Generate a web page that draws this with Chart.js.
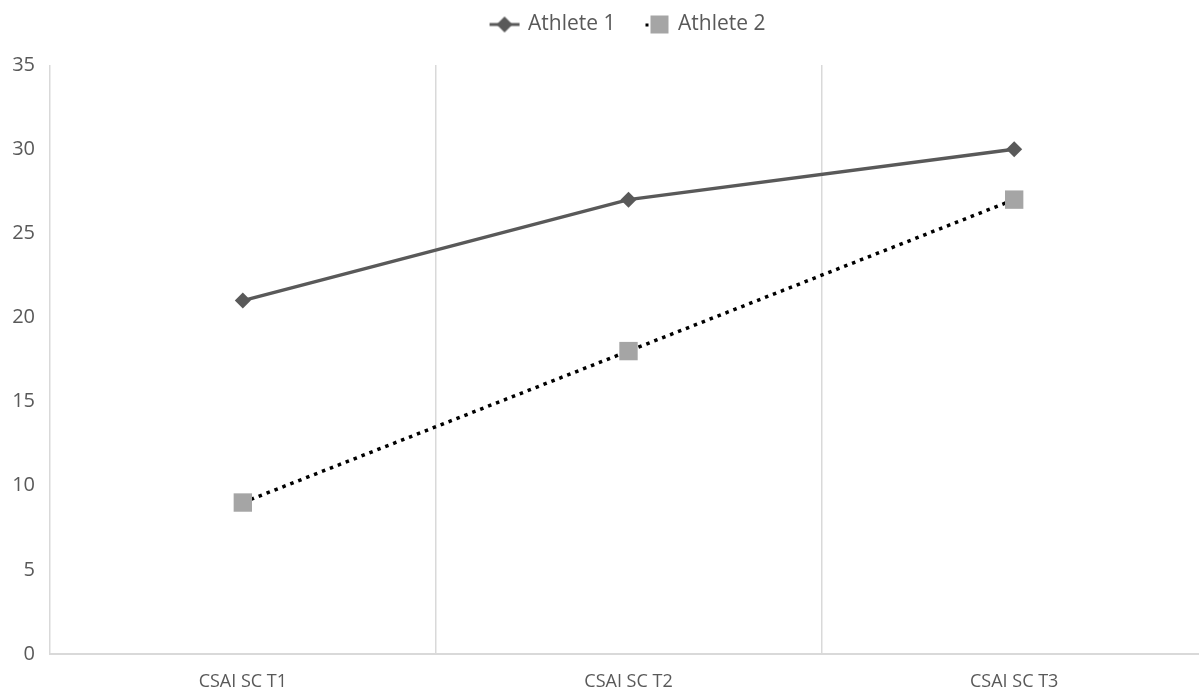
<!DOCTYPE html>
<html>
<head>
<meta charset="utf-8">
<script src="https://cdn.jsdelivr.net/npm/chart.js@4/dist/chart.umd.min.js"></script>
<style>
  html, body { margin: 0; padding: 0; background: #fff; overflow: hidden; }
  #wrap { width: 1199px; height: 696px; overflow: hidden; }
</style>
</head>
<body>
<div id="wrap"><canvas id="c" width="1247" height="696"></canvas></div>
<script>
const categories = ['CSAI SC T1', 'CSAI SC T2', 'CSAI SC T3'];
const athlete1 = [21, 27, 30];
const athlete2 = [9, 18, 27];
const seriesNames = ['Athlete 1', 'Athlete 2'];
const yTicks = [0, 5, 10, 15, 20, 25, 30, 35];

const TEXT = '#595959';
const GRID = '#d9d9d9';
const FONT = "'Open Sans', 'Noto Sans', sans-serif";

// Small legend glyphs: a line through the marker, as in the series.
function legendGlyph(kind) {
  const c = document.createElement('canvas');
  c.width = 32; c.height = 20;
  const g = c.getContext('2d');
  if (kind === 1) {
    g.strokeStyle = '#595959'; g.lineWidth = 3;
    g.beginPath(); g.moveTo(1, 10); g.lineTo(31, 10); g.stroke();
    g.fillStyle = '#595959';
    g.beginPath(); g.moveTo(16, 2); g.lineTo(24, 10); g.lineTo(16, 18); g.lineTo(8, 10); g.closePath(); g.fill();
  } else {
    g.fillStyle = '#000';
    g.fillRect(7, 9, 3, 3);
    g.fillStyle = '#a5a5a5';
    g.fillRect(12, 1, 18, 18);
  }
  return c;
}

// Reserve a fixed band for the legend above the plot.
const legendBand = {
  id: 'legendBand',
  afterInit(chart) {
    const lg = chart.legend;
    if (!lg) return;
    const fit = lg.fit.bind(lg);
    lg.fit = function () { fit(); this.height = 77; };
  }
};

new Chart(document.getElementById('c'), {
  type: 'line',
  plugins: [legendBand],
  data: {
    labels: categories,
    datasets: [
      {
        label: seriesNames[0],
        data: athlete1,
        borderColor: '#595959',
        backgroundColor: '#595959',
        borderWidth: 3.5,
        pointStyle: 'rectRot',
        pointRadius: 8,
        pointHoverRadius: 8,
        pointBorderWidth: 0,
        tension: 0
      },
      {
        label: seriesNames[1],
        data: athlete2,
        borderColor: '#000000',
        backgroundColor: '#a5a5a5',
        borderWidth: 3.5,
        borderDash: [3.5, 5],
        pointStyle: 'rect',
        pointRadius: 13,
        pointHoverRadius: 13,
        pointBorderWidth: 0,
        tension: 0
      }
    ]
  },
  options: {
    responsive: false,
    animation: false,
    layout: { padding: { top: -12, right: 40, bottom: 0, left: 0 } },
    plugins: {
      tooltip: { enabled: false },
      legend: {
        position: 'top',
        fullSize: false,
        labels: {
          color: TEXT,
          font: { family: FONT, size: 21 },
          usePointStyle: true,
          pointStyleWidth: 26,
          padding: 26,
          generateLabels: (chart) => chart.data.datasets.map((ds, i) => ({
            text: ds.label,
            pointStyle: legendGlyph(i + 1),
            fontColor: TEXT,
            lineWidth: 0,
            strokeStyle: 'transparent',
            fillStyle: 'transparent',
            datasetIndex: i,
            hidden: false
          }))
        }
      }
    },
    scales: {
      x: {
        offset: true,
        grid: { display: true, offset: true, color: GRID, lineWidth: 1.5, drawTicks: false },
        border: { display: true, color: GRID, width: 2 },
        ticks: { color: TEXT, font: { family: FONT, size: 18 }, padding: 17, maxRotation: 0 },
        afterFit: (s) => { s.height = 42; }
      },
      y: {
        min: 0,
        max: 35,
        afterBuildTicks: (s) => { s.ticks = yTicks.map(v => ({ value: v })); },
        grid: { display: false, drawTicks: false },
        border: { display: false },
        ticks: { color: TEXT, font: { family: FONT, size: 20 }, padding: 15 },
        afterFit: (s) => { s.width = 50; }
      }
    }
  }
});
</script>
</body>
</html>
